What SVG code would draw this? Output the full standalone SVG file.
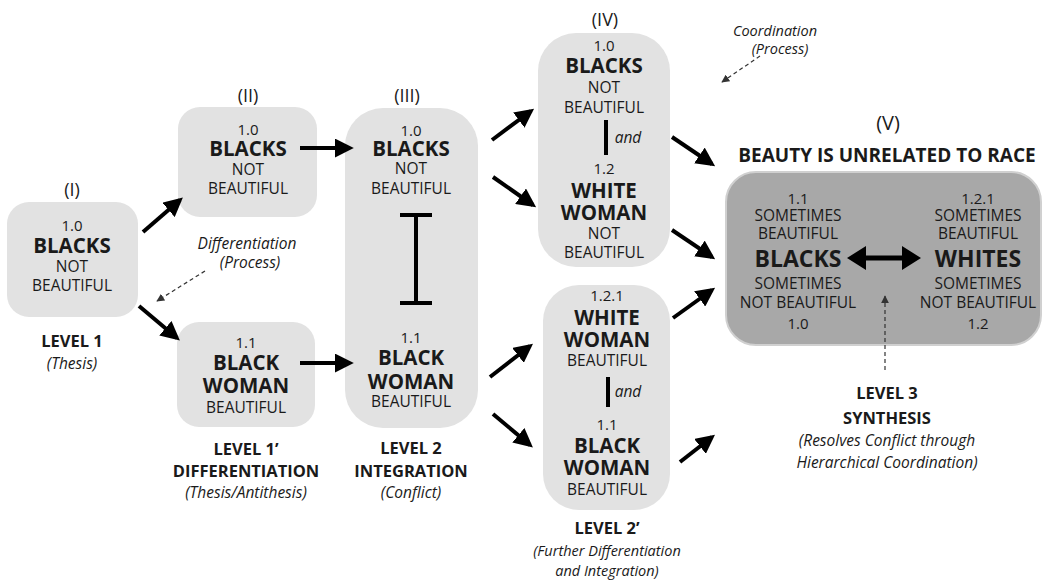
<svg xmlns="http://www.w3.org/2000/svg" width="1047" height="586" viewBox="0 0 1047 586">
<defs>
<style>
text{font-family:"Open Sans","Noto Sans","Liberation Sans",sans-serif;fill:#1a1a1a;text-anchor:middle;dominant-baseline:central}
.box{fill:#e2e2e2}
.num{font-size:15px}
.big{font-size:20.5px;font-weight:bold}
.reg{font-size:15.5px}
.lvl{font-size:16.5px;font-weight:bold}
.it{font-size:15.5px;font-style:italic}
.hd{font-size:18px}
.conn{stroke:#000;stroke-width:4;fill:none;marker-end:url(#ah)}
.dash{stroke:#333;stroke-width:1.2;stroke-dasharray:4 3;fill:none;marker-end:url(#dh)}
</style>
<marker id="ah" viewBox="0 0 10 10" refX="8" refY="5" markerWidth="19" markerHeight="19" markerUnits="userSpaceOnUse" orient="auto"><path d="M0,0 L10,5 L0,10 z" fill="#000"/></marker>
<marker id="dh" viewBox="0 0 10 10" refX="9" refY="5" markerWidth="8" markerHeight="8" markerUnits="userSpaceOnUse" orient="auto"><path d="M0,0 L10,5 L0,10 z" fill="#333"/></marker>
</defs>
<rect width="1047" height="586" fill="#fff"/>

<g id="node-I">
<text x="72" y="189" class="hd">(I)</text>
<rect class="box" x="7" y="202" width="131" height="115" rx="22"/>
<text x="72" y="225" class="num">1.0</text>
<text x="72" y="245" class="big">BLACKS</text>
<text x="72" y="266" class="reg">NOT</text>
<text x="72" y="285" class="reg">BEAUTIFUL</text>
<text x="72" y="340" class="lvl">LEVEL 1</text>
<text x="72" y="363" class="it">(Thesis)</text>
</g>

<g id="node-II">
<text x="248" y="95" class="hd">(II)</text>
<rect class="box" x="178" y="107" width="139" height="110" rx="22"/>
<text x="248" y="129" class="num">1.0</text>
<text x="248" y="148" class="big">BLACKS</text>
<text x="248" y="169" class="reg">NOT</text>
<text x="248" y="188" class="reg">BEAUTIFUL</text>
</g>

<g id="node-II-b">
<rect class="box" x="177" y="322" width="138" height="105" rx="22"/>
<text x="246" y="342" class="num">1.1</text>
<text x="246" y="362" class="big">BLACK</text>
<text x="246" y="385" class="big">WOMAN</text>
<text x="246" y="407" class="reg">BEAUTIFUL</text>
<text x="246" y="448" class="lvl">LEVEL 1’</text>
<text x="246" y="470" class="lvl">DIFFERENTIATION</text>
<text x="246" y="492" class="it">(Thesis/Antithesis)</text>
</g>

<g id="differentiation-label">
<text x="247" y="243" class="it">Differentiation</text>
<text x="250" y="262" class="it">(Process)</text>
</g>

<g id="node-III">
<text x="407" y="95" class="hd">(III)</text>
<rect class="box" x="345" y="108" width="133" height="320" rx="38"/>
<text x="411" y="130" class="num">1.0</text>
<text x="411" y="148" class="big">BLACKS</text>
<text x="411" y="168" class="reg">NOT</text>
<text x="411" y="188" class="reg">BEAUTIFUL</text>
<path d="M400,215 H432 M416,215 V303 M400,303 H432" stroke="#000" stroke-width="4" fill="none"/>
<text x="411" y="337" class="num">1.1</text>
<text x="411" y="357" class="big">BLACK</text>
<text x="411" y="381" class="big">WOMAN</text>
<text x="411" y="401" class="reg">BEAUTIFUL</text>
<text x="411" y="447" class="lvl">LEVEL 2</text>
<text x="411" y="470" class="lvl">INTEGRATION</text>
<text x="411" y="492" class="it">(Conflict)</text>
</g>

<g id="node-IV">
<text x="605" y="19" class="hd">(IV)</text>
<rect class="box" x="538" y="33" width="132" height="234" rx="38"/>
<text x="604" y="45" class="num">1.0</text>
<text x="604" y="65" class="big">BLACKS</text>
<text x="604" y="87" class="reg">NOT</text>
<text x="604" y="107" class="reg">BEAUTIFUL</text>
<line x1="606" y1="120" x2="606" y2="155" stroke="#000" stroke-width="4"/>
<text x="628" y="137" class="it">and</text>
<text x="604" y="168" class="num">1.2</text>
<text x="604" y="190" class="big">WHITE</text>
<text x="604" y="212" class="big">WOMAN</text>
<text x="604" y="233" class="reg">NOT</text>
<text x="604" y="252" class="reg">BEAUTIFUL</text>
</g>

<g id="node-IV-b">
<rect class="box" x="543" y="285" width="127" height="225" rx="36"/>
<text x="607" y="295" class="num">1.2.1</text>
<text x="607" y="317" class="big">WHITE</text>
<text x="607" y="339" class="big">WOMAN</text>
<text x="607" y="360" class="reg">BEAUTIFUL</text>
<line x1="608" y1="377" x2="608" y2="407" stroke="#000" stroke-width="4"/>
<text x="628" y="391" class="it">and</text>
<text x="607" y="424" class="num">1.1</text>
<text x="607" y="445" class="big">BLACK</text>
<text x="607" y="467" class="big">WOMAN</text>
<text x="607" y="489" class="reg">BEAUTIFUL</text>
<text x="607" y="527" class="lvl">LEVEL 2’</text>
<text x="607" y="550" class="it" style="font-size:14.5px">(Further Differentiation</text>
<text x="607" y="570" class="it" style="font-size:14.5px">and Integration)</text>
</g>

<g id="coordination-label">
<text x="775" y="30" class="it" style="font-size:14.5px">Coordination</text>
<text x="780" y="48" class="it" style="font-size:14.5px">(Process)</text>
</g>

<g id="node-V">
<text x="888" y="122" class="hd" style="font-size:20px">(V)</text>
<text x="887" y="155" class="lvl" style="font-size:19px">BEAUTY IS UNRELATED TO RACE</text>
<rect x="726" y="172" width="315" height="173" rx="30" fill="#a8a8a8" stroke="#d0d0d0" stroke-width="2"/>
<text x="798" y="198" class="num">1.1</text>
<text x="798" y="215" class="reg">SOMETIMES</text>
<text x="798" y="233" class="reg">BEAUTIFUL</text>
<text x="798" y="258" class="big" style="font-size:23px">BLACKS</text>
<text x="798" y="283" class="reg">SOMETIMES</text>
<text x="798" y="302" class="reg">NOT BEAUTIFUL</text>
<text x="798" y="323" class="num">1.0</text>
<text x="978" y="198" class="num">1.2.1</text>
<text x="978" y="215" class="reg">SOMETIMES</text>
<text x="978" y="233" class="reg">BEAUTIFUL</text>
<text x="978" y="258" class="big" style="font-size:23px">WHITES</text>
<text x="978" y="283" class="reg">SOMETIMES</text>
<text x="978" y="302" class="reg">NOT BEAUTIFUL</text>
<text x="978" y="323" class="num">1.2</text>
<path d="M860,258 H908" stroke="#000" stroke-width="5"/>
<path d="M847,258 L866,246 L866,270 z M921,258 L902,246 L902,270 z" fill="#000"/>
<text x="887" y="392" class="lvl">LEVEL 3</text>
<text x="887" y="417" class="lvl">SYNTHESIS</text>
<text x="887" y="440" class="it">(Resolves Conflict through</text>
<text x="887" y="462" class="it">Hierarchical Coordination)</text>
</g>

<g id="connectors">
<line class="conn" x1="143" y1="232" x2="180" y2="200"/>
<line class="conn" x1="139" y1="306" x2="177" y2="338"/>
<line class="conn" x1="300" y1="148" x2="350" y2="148"/>
<line class="conn" x1="300" y1="363" x2="350" y2="363"/>
<line class="conn" x1="492" y1="140" x2="531" y2="111"/>
<line class="conn" x1="493" y1="177" x2="533" y2="205"/>
<line class="conn" x1="490" y1="377" x2="530" y2="346"/>
<line class="conn" x1="493" y1="414" x2="530" y2="445"/>
<line class="conn" x1="672" y1="137" x2="712" y2="164"/>
<line class="conn" x1="672" y1="230" x2="712" y2="257"/>
<line class="conn" x1="673" y1="318" x2="712" y2="290"/>
<line class="conn" x1="680" y1="462" x2="712" y2="437"/>
<line class="dash" x1="205" y1="271" x2="157" y2="301"/>
<line class="dash" x1="760" y1="56" x2="722" y2="82"/>
<line class="dash" x1="885" y1="370" x2="885" y2="296"/>
</g>
</svg>
